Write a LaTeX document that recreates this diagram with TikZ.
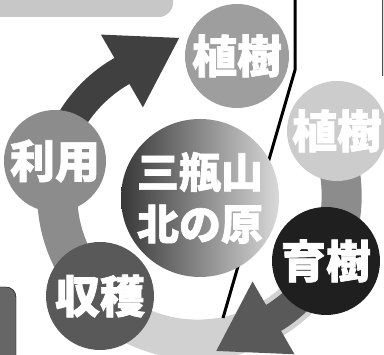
\documentclass[tikz,border=0pt]{standalone}
\usepackage{fontspec}
\newfontfamily\jpfont{Noto Sans CJK JP}[BoldFeatures={FakeBold=1.5}]
\usetikzlibrary{arrows.meta,backgrounds}
\tikzset{
	x=1pt, y=1pt, % one unit is one pixel of the reference
	ball/.style={circle, inner sep=0pt, text=white, font=\jpfont\bfseries\fontsize{45}{47}\selectfont}, % the round stations
	band/.style={line width=40pt}, % the ring between the stations
	arrowband/.style={line width=30pt, -{Triangle[length=67pt,width=79pt]}}, % the arrows of the ring
}
\begin{document}
\begin{tikzpicture}
	\useasboundingbox (0,0) rectangle (384,355);
	\node[ball, minimum size=158pt, left color=black!78, right color=black!15, font=\jpfont\bfseries\fontsize{42}{52}\selectfont, align=center] (kitanohara) at (200,157) {三瓶山\\北の原};
	\node[ball, minimum size=104pt, fill=black!38] (shokuju) at (237,299) {植樹};
	\node[ball, minimum size=102pt, fill=black!45] (riyo) at (55,194) {利用};
	\node[ball, minimum size=100pt, fill=black!20] (shokujuB) at (337,224) {植樹};
	\node[ball, minimum size=108pt, fill=black!88] (ikuju) at (326,94) {育樹};
	\node[ball, minimum size=108pt, fill=black!65] (shukaku) at (100,59) {収穫};
	
	\begin{scope}[on background layer]
		\fill[black!22, rounded corners=14pt] (-20,338) rectangle (173,380);
		\draw[fill=black!60, rounded corners=10pt] (-20,-20) rectangle (16,68);
		\fill[black!12] (382,279) rectangle (400,380);
		\draw[line width=1pt, black!70] (382,279) -- (382,360);
		% the ring
		\draw[band, black!45] (shukaku) arc[start angle=226, end angle=167, radius=140];
		\draw[band, black!18] (ikuju) arc[start angle=-27, end angle=-134, radius=144];
		\draw[band, black!45] (ikuju) arc[start angle=-27, end angle=25, radius=144];
		\draw[arrowband, black!75] (riyo) arc[start angle=167, end angle=121, radius=140] -- ++(30:70);
		\draw[arrowband, black!65] (ikuju) arc[start angle=-27, end angle=-57, radius=144] -- ++(-150:70);
		% divider
		\coordinate (topend) at (295,360);
		\coordinate (kink) at (295,285);
		\coordinate (lowend) at (223,37);
		\draw[line width=3pt] (topend) -- (kink) -- (lowend);
	\end{scope}
\end{tikzpicture}
\end{document}
